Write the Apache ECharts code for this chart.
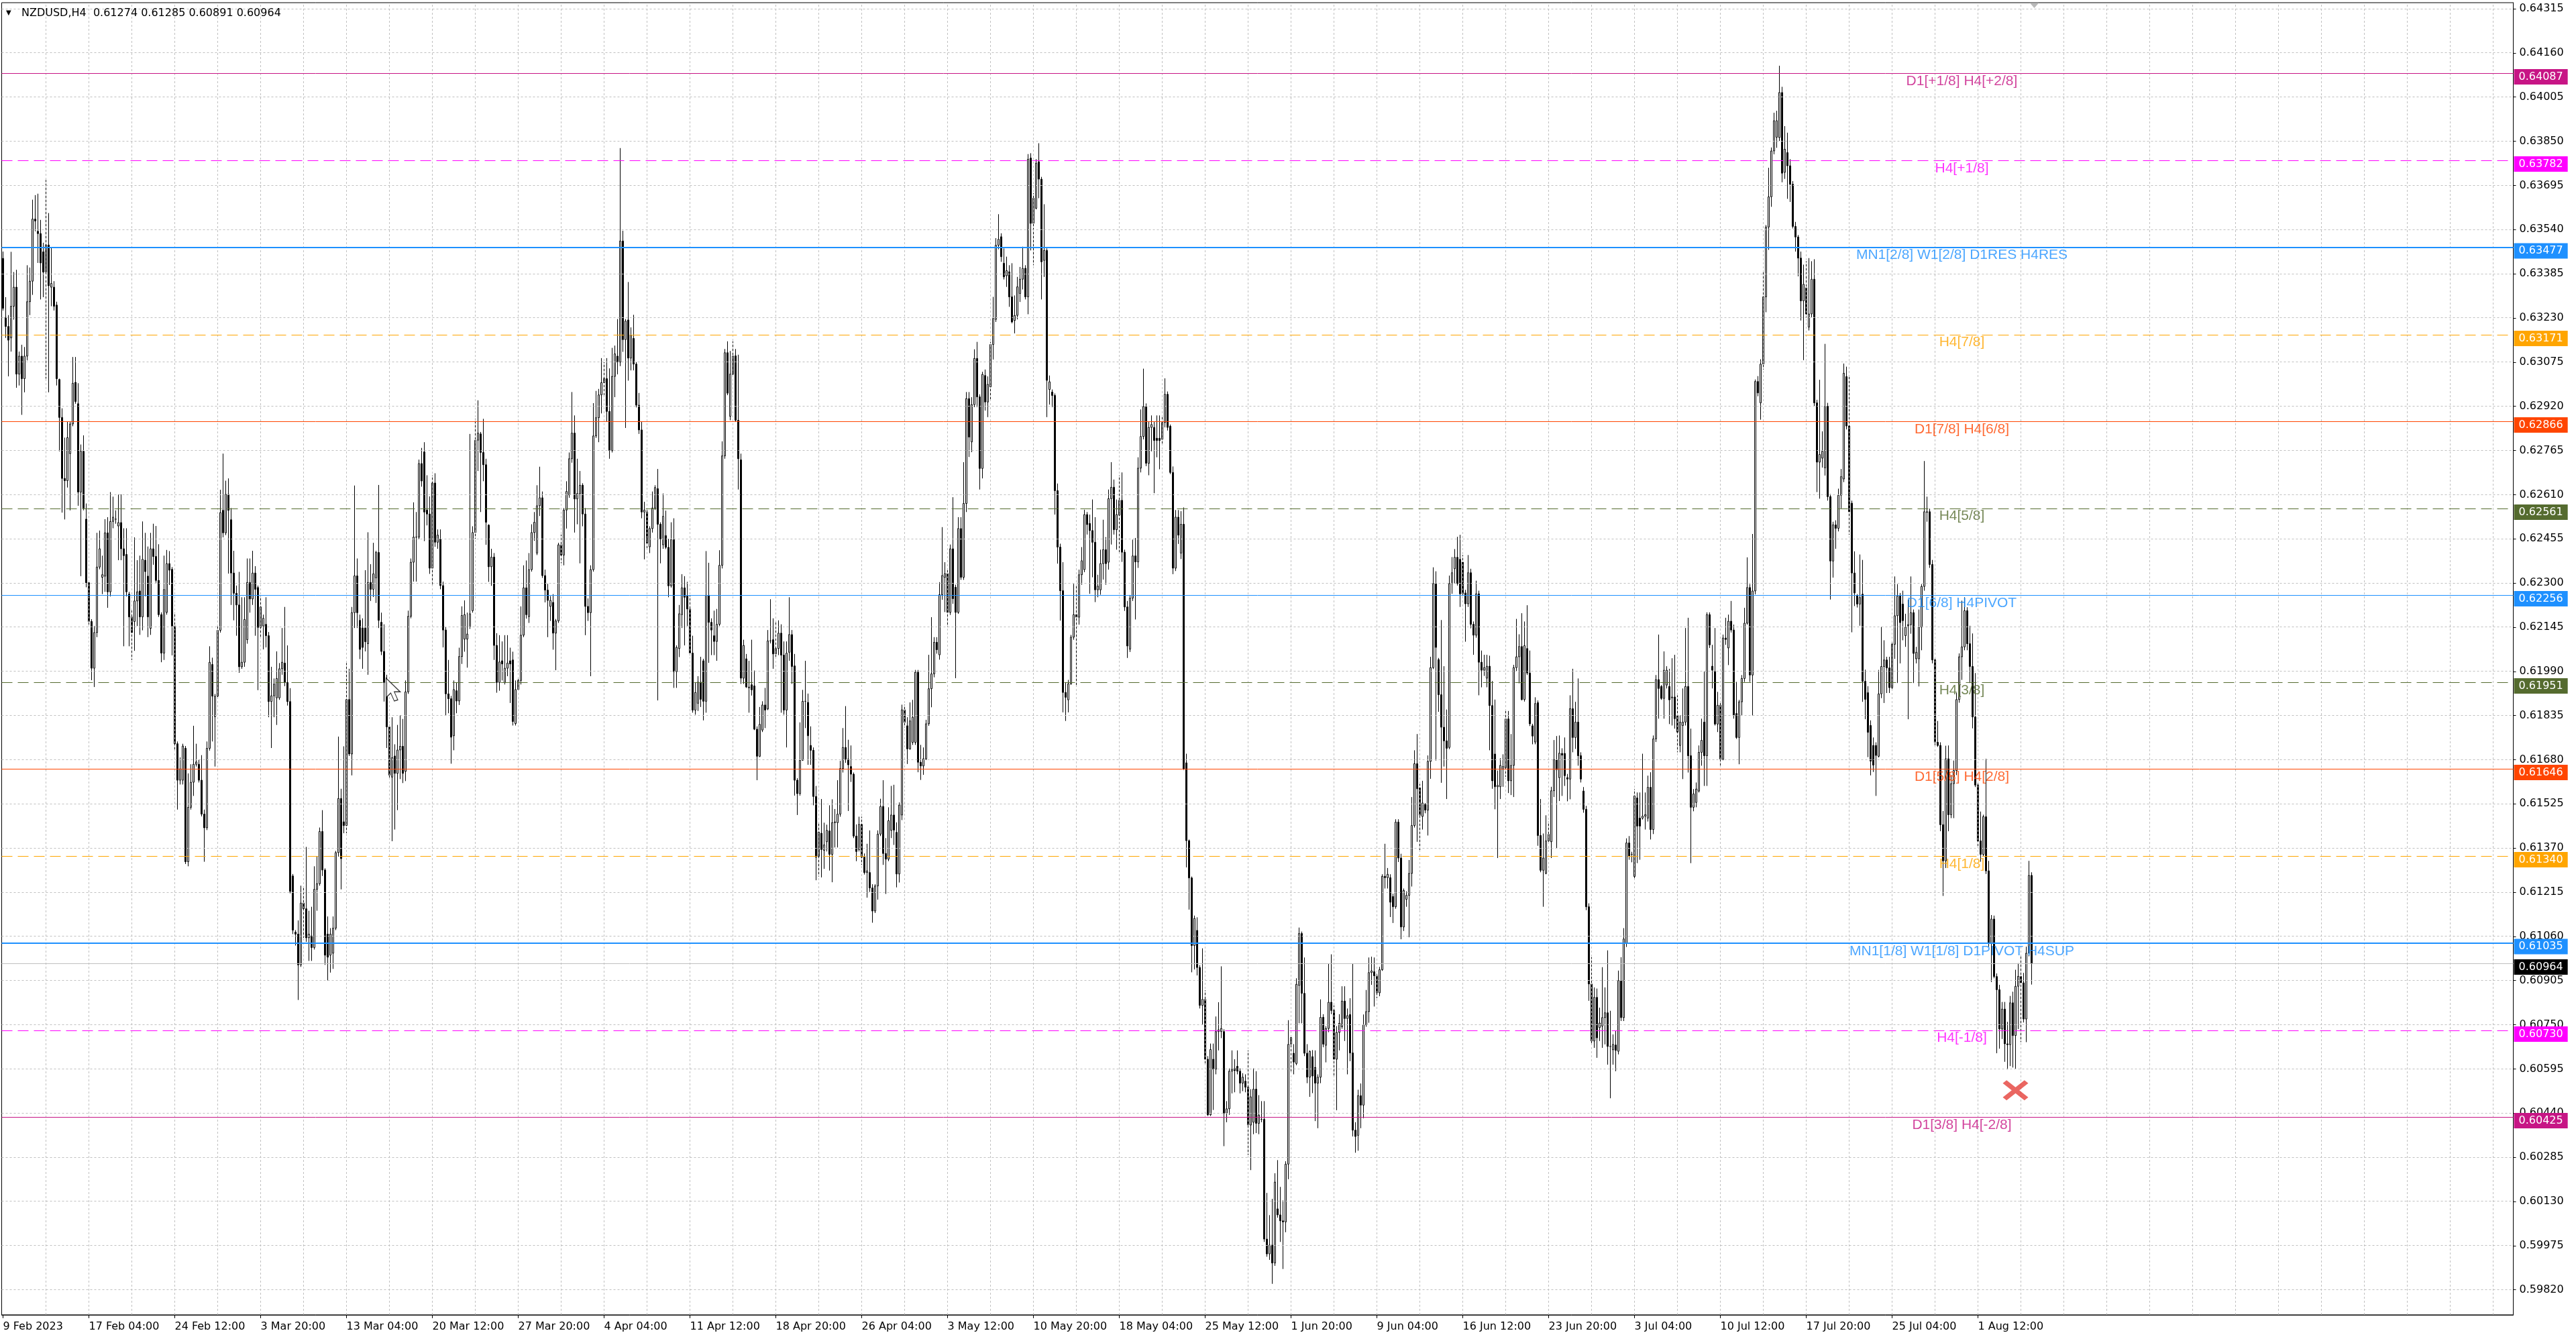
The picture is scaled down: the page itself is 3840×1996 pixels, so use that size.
<!DOCTYPE html>
<html>
<head>
<meta charset="utf-8">
<script src="https://cdn.jsdelivr.net/npm/echarts/dist/echarts.min.js"></script>
<style>
html,body{margin:0;padding:0;background:#fff;overflow:hidden;}
#chart{width:3840px;height:1996px;}
</style>
</head>
<body>
<div id="chart"></div>
<script>
// ---- DATA: NZDUSD H4 candles, each [open, high, low, close] ----
const ohlc = [
[.63439,.63463,.63256,.63264],[.63232,.63303,.63160,.63200],[.63200,.63240,.63025,.63152],[.63160,.63462,.63112,.63271],[.63271,.63391,.63224,.63338],[.63338,.63399,.62985,.63033],[.63033,.63112,.62993,.63096],[.63096,.63136,.62890,.63017],[.63017,.63128,.62969,.63096],[.63096,.63415,.63081,.63287],
[.63287,.63407,.63240,.63359],[.63359,.63645,.63311,.63577],[.63577,.63661,.63534,.63570],[.63534,.63666,.63423,.63526],[.63526,.63574,.63295,.63423],[.63462,.63494,.63303,.63391],[.63391,.63714,.63017,.63486],[.63486,.63598,.62969,.63343],[.63338,.63478,.63271,.63351],[.63338,.63359,.63256,.63271],
[.63275,.63287,.62993,.63017],[.63014,.63017,.62762,.62881],[.62881,.62913,.62547,.62667],[.62667,.62810,.62523,.62659],[.62659,.62866,.62635,.62810],[.62754,.62866,.62555,.62858],[.62858,.63093,.62850,.63001],[.63004,.63093,.62929,.62937],[.62929,.63001,.62571,.62619],[.62619,.62786,.62324,.62762],
[.62762,.62818,.62555,.62563],[.62524,.62579,.62285,.62301],[.62301,.62309,.62149,.62165],[.62165,.62173,.61959,.62001],[.62001,.62149,.61935,.62126],[.62126,.62476,.62110,.62356],[.62356,.62484,.62348,.62420],[.62320,.62396,.62261,.62329],[.62324,.62524,.62269,.62476],[.62476,.62531,.62213,.62269],
[.62269,.62619,.62253,.62516],[.62516,.62603,.62492,.62531],[.62524,.62555,.62508,.62524],[.62500,.62611,.62380,.62512],[.62512,.62611,.62380,.62420],[.62420,.62492,.62078,.62396],[.62400,.62492,.62253,.62269],[.62261,.62269,.62078,.62181],[.62181,.62205,.62030,.62126],[.62165,.62460,.62062,.62237],
[.62237,.62380,.62149,.62269],[.62272,.62396,.62118,.62181],[.62181,.62516,.62134,.62383],[.62380,.62476,.62253,.62340],[.62324,.62428,.62110,.62181],[.62141,.62476,.62118,.62420],[.62420,.62508,.62364,.62393],[.62393,.62500,.62301,.62309],[.62309,.62436,.62181,.62189],[.62189,.62197,.62022,.62054],
[.62054,.62396,.62030,.62277],[.62197,.62416,.62189,.62368],[.62368,.62412,.62293,.62345],[.62348,.62356,.62046,.62149],[.62149,.62197,.61712,.61736],[.61736,.61744,.61505,.61608],[.61608,.61688,.61593,.61648],[.61608,.61736,.61593,.61728],[.61720,.61728,.61314,.61322],[.61322,.61632,.61306,.61513],
[.61513,.61664,.61505,.61601],[.61601,.61799,.61553,.61664],[.61664,.61736,.61656,.61672],[.61664,.61680,.61600,.61608],[.61608,.61696,.61481,.61489],[.61489,.61505,.61322,.61441],[.61441,.61744,.61433,.61720],[.61720,.62078,.61712,.62022],[.62014,.62038,.61744,.61903],[.61831,.61911,.61656,.61903],
[.61903,.62149,.61895,.62134],[.62134,.62627,.62126,.62547],[.62555,.62754,.62460,.62476],[.62476,.62659,.62468,.62611],[.62611,.62667,.62333,.62555],[.62522,.62563,.62223,.62335],[.62335,.62413,.62169,.62264],[.62264,.62291,.62115,.62223],[.62223,.62339,.61985,.62006],[.62006,.62250,.61999,.62022],
[.62022,.62250,.62006,.62172],[.62101,.62386,.62087,.62302],[.62302,.62386,.62196,.62244],[.62244,.62413,.62223,.62335],[.62335,.62359,.62115,.62278],[.62284,.62291,.61924,.62144],[.62144,.62254,.62108,.62216],[.62149,.62189,.62067,.62176],[.62155,.62250,.62074,.62115],[.62115,.62128,.61829,.61884],
[.61884,.62006,.61721,.61904],[.61904,.61965,.61829,.61945],[.61897,.62060,.61802,.61965],[.61897,.62019,.61890,.61999],[.61999,.62142,.61978,.62022],[.62019,.62216,.61938,.61951],[.61951,.62081,.61870,.61884],[.61884,.61931,.61211,.61218],[.61272,.61279,.61068,.61082],[.61075,.61082,.61028,.61068],
[.61068,.61116,.60837,.60960],[.60960,.61238,.60953,.61177],[.61177,.61231,.61055,.61157],[.61157,.61374,.61041,.61055],[.61055,.61150,.60974,.61068],[.61062,.61164,.60974,.61021],[.61021,.61306,.61014,.61225],[.61225,.61340,.61150,.61245],[.61245,.61442,.61238,.61428],[.61428,.61503,.61272,.61293],
[.61293,.61299,.60960,.60994],[.61068,.61130,.60905,.60987],[.60994,.61089,.60933,.61068],[.61001,.61130,.60946,.61089],[.61089,.61360,.61082,.61354],[.61354,.61761,.61340,.61544],[.61544,.61578,.61225,.61333],[.61462,.61727,.61422,.61449],[.61449,.62019,.61422,.61891],[.61891,.61999,.61693,.61700],
[.61700,.62216,.61625,.62196],[.62196,.62642,.62142,.62325],[.62325,.62386,.62142,.62196],[.62169,.62189,.62033,.62067],[.62142,.62176,.61999,.62074],[.62142,.62345,.62060,.62094],[.62087,.62478,.61978,.62302],[.62302,.62366,.62237,.62278],[.62278,.62441,.62251,.62332],[.62318,.62413,.62230,.62407],
[.62407,.62644,.62142,.62169],[.62162,.62196,.62047,.62060],[.62060,.62155,.61884,.61951],[.61951,.61978,.61721,.61795],[.61795,.61802,.61612,.61626],[.61619,.61829,.61394,.61687],[.61693,.61734,.61435,.61632],[.61632,.61802,.61503,.61714],[.61714,.61836,.61612,.61727],[.61727,.61823,.61598,.61632],
[.61639,.61958,.61605,.61918],[.61918,.62203,.61911,.62183],[.62183,.62386,.62176,.62373],[.62373,.62583,.62305,.62461],[.62461,.62549,.62305,.62461],[.62461,.62733,.62454,.62719],[.62719,.62774,.62638,.62658],[.62760,.62794,.62447,.62549],[.62556,.62678,.62502,.62542],[.62542,.62604,.62332,.62352],
[.62352,.62678,.62291,.62651],[.62651,.62685,.62427,.62443],[.62443,.62488,.62420,.62468],[.62454,.62488,.62278,.62291],[.62291,.62305,.62074,.62135],[.62135,.62146,.61836,.61911],[.61911,.62030,.61843,.61894],[.61894,.61904,.61666,.61759],[.61764,.61958,.61713,.61926],[.61922,.61951,.61843,.61886],
[.61886,.62073,.61872,.62042],[.62042,.62218,.62016,.62186],[.62103,.62239,.62059,.62189],[.62103,.62196,.62003,.62121],[.62146,.62823,.62139,.62192],[.62203,.62499,.62196,.62477],[.62477,.62876,.62455,.62801],[.62801,.62941,.62693,.62826],[.62823,.62830,.62549,.62758],[.62758,.62876,.62657,.62715],
[.62715,.62736,.62434,.62513],[.62503,.62506,.62304,.62357],[.62357,.62420,.62290,.62391],[.62391,.62405,.62030,.62081],[.62081,.62124,.61915,.61951],[.61951,.62117,.61922,.62023],[.62027,.62095,.61958,.62016],[.61951,.62117,.61944,.62001],[.62001,.62117,.61973,.62019],[.62027,.62073,.61879,.62016],
[.62030,.62059,.61800,.61814],[.61807,.61958,.61800,.61926],[.61926,.61965,.61922,.61958],[.61958,.62218,.61944,.62117],[.62117,.62362,.62110,.62283],[.62283,.62379,.62175,.62189],[.62182,.62405,.62160,.62347],[.62347,.62506,.62340,.62477],[.62477,.62549,.62448,.62513],[.62405,.62643,.62398,.62571],
[.62571,.62708,.62535,.62599],[.62599,.62621,.62318,.62326],[.62326,.62347,.62232,.62275],[.62275,.62297,.62110,.62239],[.62218,.62254,.62167,.62239],[.62232,.62261,.62066,.62124],[.62124,.62174,.61994,.62167],[.62167,.62441,.62160,.62434],[.62434,.62470,.62369,.62398],[.62398,.62563,.62362,.62556],
[.62556,.62657,.62491,.62621],[.62609,.62758,.62599,.62736],[.62736,.62970,.62722,.62826],[.62826,.62888,.62477,.62595],[.62595,.62736,.62506,.62614],[.62614,.62693,.62369,.62643],[.62643,.62650,.62499,.62542],[.62542,.62563,.62117,.62218],[.62218,.62246,.62167,.62196],[.62196,.62362,.61973,.62347],
[.62347,.62931,.62340,.62816],[.62816,.62974,.62809,.62880],[.62880,.62981,.62794,.62960],[.62960,.63089,.62895,.63003],[.63003,.63075,.62952,.63017],[.63017,.63089,.62866,.62902],[.62902,.63053,.62736,.62765],[.62765,.63125,.62758,.63025],[.63025,.63133,.62952,.63104],[.63096,.63226,.63032,.63075],
[.63075,.63826,.63061,.63500],[.63500,.63536,.63111,.63154],[.63154,.63226,.62844,.63219],[.63223,.63356,.63010,.63089],[.63089,.63197,.63046,.63169],[.63158,.63241,.63046,.63068],[.63068,.63075,.62916,.62924],[.62924,.62967,.62823,.62837],[.62837,.62866,.62527,.62549],[.62549,.62585,.62383,.62556],
[.62549,.62556,.62420,.62441],[.62427,.62499,.62405,.62491],[.62491,.62621,.62477,.62563],[.62563,.62643,.62556,.62635],[.62631,.62700,.61888,.62506],[.62506,.62513,.62369,.62455],[.62434,.62614,.62420,.62534],[.62466,.62554,.62419,.62425],[.62425,.62455,.62250,.62290],[.62290,.62513,.62284,.62452],
[.62452,.62527,.61932,.61989],[.61989,.62081,.61932,.62074],[.62070,.62223,.62040,.62192],[.62189,.62331,.62142,.62283],[.62283,.62324,.62081,.62250],[.62254,.62304,.62149,.62209],[.62209,.62257,.62047,.62054],[.62054,.62115,.61845,.61854],[.61854,.61952,.61838,.61916],[.61878,.61973,.61851,.61952],
[.61952,.62041,.61865,.61892],[.62027,.62034,.61818,.61885],[.61885,.62412,.61845,.62257],[.62257,.62371,.62020,.62162],[.62162,.62176,.62047,.62135],[.62115,.62203,.62047,.62095],[.62095,.62209,.62027,.62155],[.62155,.62415,.62149,.62362],[.62362,.62797,.62351,.62746],[.62746,.63121,.62736,.63108],
[.63108,.63148,.62959,.62966],[.62885,.63114,.62871,.63033],[.63033,.63148,.63027,.63097],[.63097,.63121,.62865,.62871],[.62871,.63101,.62628,.62736],[.62732,.62754,.61946,.61966],[.61966,.62101,.61946,.62081],[.62034,.62051,.61932,.61935],[.61932,.62027,.61845,.61935],[.61943,.62101,.61905,.61925],
[.61939,.61993,.61784,.61787],[.61787,.61797,.61608,.61692],[.61692,.61865,.61689,.61804],[.61784,.61885,.61777,.61872],[.61872,.61932,.61791,.61854],[.61858,.62135,.61854,.62097],[.62097,.62243,.62088,.62097],[.62101,.62176,.61999,.62051],[.62051,.62165,.62041,.62070],[.62070,.62169,.62047,.62124],
[.62124,.62155,.61845,.62047],[.62047,.62095,.61838,.61854],[.61854,.62095,.61723,.62054],[.62057,.62250,.62027,.62119],[.62119,.62135,.61946,.62007],[.62009,.62051,.61554,.61608],[.61608,.61615,.61486,.61561],[.61561,.61811,.61554,.61678],[.61678,.61925,.61676,.61885],[.61885,.62027,.61791,.61885],
[.61881,.61912,.61662,.61764],[.61730,.61797,.61662,.61713],[.61713,.61723,.61520,.61551],[.61551,.61588,.61257,.61338],[.61341,.61459,.61270,.61426],[.61422,.61542,.61267,.61365],[.61362,.61459,.61297,.61381],[.61392,.61452,.61358,.61432],[.61430,.61520,.61291,.61348],[.61348,.61541,.61250,.61459],
[.61459,.61507,.61372,.61462],[.61459,.61608,.61372,.61489],[.61489,.61676,.61480,.61649],[.61649,.61791,.61635,.61723],[.61723,.61868,.61669,.61682],[.61682,.61750,.61500,.61662],[.61656,.61730,.61602,.61629],[.61629,.61635,.61405,.61412],[.61412,.61453,.61324,.61358],[.61365,.61480,.61358,.61453],
[.61453,.61480,.61311,.61338],[.61338,.61351,.61277,.61284],[.61284,.61385,.61196,.61290],[.61284,.61432,.61216,.61230],[.61230,.61243,.61108,.61149],[.61149,.61243,.61142,.61237],[.61237,.61432,.61189,.61419],[.61419,.61543,.61412,.61516],[.61516,.61608,.61311,.61351],[.61351,.61405,.61209,.61331],
[.61331,.61513,.61324,.61466],[.61432,.61588,.61405,.61486],[.61486,.61592,.61381,.61433],[.61425,.61460,.61232,.61279],[.61279,.61530,.61249,.61521],[.61486,.61873,.61468,.61855],[.61855,.61873,.61793,.61811],[.61799,.61829,.61665,.61718],[.61718,.61881,.61715,.61816],[.61741,.61890,.61732,.61829],
[.61741,.61995,.61732,.61987],[.61987,.61995,.61636,.61671],[.61671,.61732,.61609,.61658],[.61658,.61723,.61627,.61683],[.61683,.61820,.61679,.61806],[.61806,.62048,.61799,.61929],[.61929,.62180,.61864,.61981],[.61981,.62110,.61969,.62092],[.62092,.62110,.62052,.62066],[.62048,.62303,.62031,.62259],
[.62259,.62496,.62241,.62326],[.62320,.62373,.62198,.62333],[.62333,.62347,.62145,.62197],[.62197,.62435,.62188,.62420],[.62420,.62601,.62227,.62245],[.62285,.62294,.61966,.62197],[.62197,.62531,.62192,.62491],[.62491,.62531,.62311,.62320],[.62320,.62724,.62311,.62579],[.62579,.62970,.62549,.62947],
[.62947,.62970,.62742,.62812],[.62795,.62952,.62759,.62926],[.62926,.63120,.62917,.63088],[.63088,.63146,.62917,.62953],[.62953,.62962,.62628,.62702],[.62702,.63041,.62667,.63032],[.63028,.63049,.62905,.62935],[.62935,.63025,.62882,.62997],[.62988,.63146,.62944,.63137],[.63137,.63304,.63084,.63228],
[.63225,.63510,.63216,.63485],[.63485,.63594,.63471,.63506],[.63515,.63527,.63427,.63445],[.63422,.63474,.63365,.63374],[.63378,.63445,.63339,.63396],[.63392,.63415,.63269,.63304],[.63304,.63422,.63211,.63216],[.63221,.63309,.63176,.63239],[.63239,.63374,.63225,.63339],[.63316,.63409,.63286,.63366],
[.63366,.63480,.63330,.63404],[.63404,.63415,.63295,.63304],[.63304,.63805,.63243,.63787],[.63791,.63808,.63467,.63562],[.63562,.63668,.63415,.63650],[.63615,.63787,.63611,.63773],[.63778,.63843,.63650,.63717],[.63717,.63725,.63295,.63427],[.63432,.63629,.63374,.63467],[.63467,.63474,.62882,.63011],
[.62979,.63028,.62926,.63006],[.62970,.62979,.62917,.62958],[.62958,.62965,.62540,.62624],[.62624,.62649,.62368,.62426],[.62426,.62438,.62168,.62273],[.62273,.62373,.61846,.61916],[.61916,.61952,.61816,.61899],[.61890,.61960,.61846,.61946],[.61946,.62118,.61943,.62110],[.62110,.62297,.62101,.62189],
[.62189,.62294,.61939,.62180],[.62180,.62347,.62154,.62329],[.62329,.62426,.62294,.62378],[.62347,.62557,.62338,.62540],[.62540,.62549,.62470,.62505],[.62509,.62540,.62262,.62484],[.62484,.62593,.62320,.62443],[.62443,.62531,.62233,.62276],[.62276,.62329,.62250,.62289],[.62276,.62417,.62259,.62368],
[.62368,.62522,.62312,.62417],[.62417,.62461,.62294,.62368],[.62373,.62628,.62347,.62596],[.62596,.62724,.62435,.62636],[.62636,.62663,.62470,.62487],[.62487,.62593,.62417,.62540],[.62538,.62678,.62405,.62590],[.62590,.62688,.62374,.62408],[.62408,.62417,.62202,.62216],[.62216,.62237,.62037,.62079],
[.62068,.62258,.62058,.62247],[.62247,.62452,.62237,.62395],[.62395,.62458,.62172,.62374],[.62374,.62741,.62353,.62703],[.62703,.62909,.62688,.62814],[.62814,.63052,.62804,.62919],[.62919,.62930,.62710,.62720],[.62720,.62867,.62678,.62846],[.62846,.62888,.62762,.62856],[.62846,.62867,.62615,.62800],
[.62808,.62888,.62741,.62800],[.62808,.62888,.62699,.62800],[.62804,.62888,.62783,.62863],[.62863,.63018,.62846,.62962],[.62962,.62972,.62835,.62846],[.62850,.62856,.62682,.62688],[.62688,.62709,.62331,.62352],[.62352,.62556,.62342,.62531],[.62531,.62556,.62437,.62468],[.62405,.62552,.62384,.62506],
[.62506,.62565,.61644,.61648],[.61669,.61701,.61302,.61396],[.61396,.61400,.61154,.61265],[.61265,.61270,.60934,.61028],[.61028,.61133,.60944,.61123],[.61081,.61127,.60923,.60951],[.60951,.60959,.60807,.60818],[.60818,.61018,.60749,.60839],[.60839,.60871,.60608,.60629],[.60629,.60640,.60430,.60434],
[.60434,.60684,.60430,.60663],[.60629,.60684,.60451,.60594],[.60594,.60779,.60576,.60726],[.60726,.60829,.60660,.60732],[.60726,.60955,.60703,.60737],[.60726,.60734,.60324,.60440],[.60440,.60482,.60408,.60455],[.60455,.60597,.60434,.60587],[.60587,.60660,.60509,.60594],[.60597,.60629,.60513,.60589],
[.60604,.60660,.60576,.60587],[.60587,.60597,.60509,.60545],[.60545,.60580,.60517,.60566],[.60552,.60576,.60513,.60531],[.60531,.60660,.60293,.60398],[.60398,.60524,.60240,.60497],[.60408,.60597,.60366,.60524],[.60524,.60587,.60370,.60404],[.60404,.60503,.60366,.60433],[.60418,.60482,.60408,.60418],
[.60418,.60482,.59988,.59998],[.59998,.60160,.59936,.59946],[.59946,.60082,.59925,.59977],[.59977,.60139,.59841,.59914],[.59914,.60229,.59904,.60198],[.60104,.60275,.60073,.60083],[.60083,.60181,.59988,.60062],[.60062,.60134,.59893,.60058],[.60058,.60271,.60022,.60261],[.60261,.60766,.60208,.60681],
[.60681,.60709,.60586,.60705],[.60650,.60682,.60576,.60619],[.60614,.60913,.60608,.60892],[.60888,.61091,.60755,.61070],[.61070,.61077,.60755,.60860],[.60860,.60986,.60640,.60650],[.60650,.60682,.60545,.60566],[.60566,.60660,.60497,.60656],[.60638,.60661,.60510,.60570],[.60600,.60660,.60412,.60545],
[.60545,.60576,.60387,.60566],[.60566,.60839,.60545,.60776],[.60776,.60787,.60671,.60682],[.60678,.60745,.60618,.60737],[.60737,.60965,.60724,.60829],[.60829,.60997,.60787,.60800],[.60800,.60818,.60566,.60629],[.60629,.60745,.60450,.60723],[.60723,.60787,.60660,.60755],[.60743,.60885,.60736,.60833],
[.60833,.60885,.60693,.60772],[.60772,.60807,.60576,.60782],[.60786,.60843,.60622,.60651],[.60651,.60964,.60358,.60380],[.60380,.60408,.60301,.60358],[.60362,.60522,.60308,.60501],[.60501,.60544,.60387,.60468],[.60468,.60786,.60422,.60750],[.60750,.60872,.60743,.60796],[.60796,.60986,.60757,.60933],
[.60933,.60989,.60890,.60939],[.60936,.60986,.60814,.60922],[.60922,.60929,.60843,.60862],[.60862,.60953,.60850,.60943],[.60943,.61278,.60939,.61271],[.61271,.61385,.61228,.61266],[.61266,.61300,.61228,.61278],[.61266,.61278,.61128,.61180],[.61200,.61210,.61107,.61164],[.61164,.61471,.61157,.61461],
[.61461,.61471,.61321,.61335],[.61335,.61350,.61050,.61093],[.61093,.61228,.61079,.61221],[.61190,.61218,.61164,.61204],[.61204,.61328,.61057,.61281],[.61281,.61549,.61235,.61449],[.61449,.61713,.61442,.61666],[.61666,.61770,.61392,.61578],[.61581,.61595,.61357,.61485],[.61481,.61606,.61435,.61528],
[.61523,.61528,.61492,.61503],[.61503,.61695,.61414,.61674],[.61674,.62041,.61613,.62003],[.62003,.62355,.61998,.62298],[.62298,.62341,.61677,.62074],[.62031,.62037,.61848,.61908],[.61908,.62170,.61599,.61794],[.61794,.62008,.61656,.61746],[.61746,.61856,.61542,.61720],[.61723,.62326,.61717,.62298],
[.62298,.62391,.62262,.62336],[.62350,.62419,.62298,.62390],[.62390,.62462,.62291,.62298],[.62383,.62469,.62216,.62262],[.62373,.62398,.62255,.62262],[.62265,.62276,.62094,.62227],[.62227,.62398,.62216,.62336],[.62336,.62350,.62141,.62155],[.62155,.62165,.62048,.62117],[.62117,.62308,.62108,.62262],
[.62262,.62273,.61906,.62022],[.62022,.62063,.61934,.61994],[.61994,.62048,.61974,.62003],[.61966,.62048,.61934,.62008],[.62008,.62045,.61713,.61870],[.61870,.61956,.61578,.61606],[.61700,.61891,.61506,.61585],[.61585,.61642,.61335,.61590],[.61585,.61685,.61542,.61660],[.61646,.61699,.61585,.61656],
[.61652,.61856,.61620,.61823],[.61823,.61851,.61563,.61606],[.61606,.61770,.61556,.61660],[.61660,.62013,.61549,.62003],[.62003,.62174,.61991,.62041],[.62041,.62120,.61948,.62077],[.62077,.62194,.61888,.61891],[.61891,.62165,.61884,.62080],[.62070,.62222,.61977,.61984],[.61984,.62063,.61798,.61806],
[.61799,.61806,.61734,.61763],[.61742,.61899,.61734,.61877],[.61880,.61888,.61378,.61414],[.61414,.61542,.61285,.61292],[.61292,.61421,.61164,.61335],[.61281,.61485,.61278,.61395],[.61395,.61463,.61392,.61418],[.61392,.61585,.61335,.61571],[.61571,.61749,.61549,.61680],[.61680,.61763,.61368,.61645],
[.61617,.61765,.61535,.61703],[.61702,.61720,.61553,.61696],[.61702,.61758,.61588,.61624],[.61617,.61630,.61534,.61612],[.61612,.61906,.61541,.61859],[.61859,.61999,.61706,.61758],[.61758,.61883,.61718,.61812],[.61812,.61965,.61659,.61694],[.61694,.61706,.61600,.61612],[.61570,.61584,.61494,.61506],
[.61506,.61518,.61152,.61164],[.61164,.61176,.60834,.60893],[.60893,.60987,.60681,.60693],[.60693,.60881,.60669,.60846],[.60846,.60877,.60634,.60704],[.60740,.60810,.60693,.60756],[.60745,.60952,.60669,.60775],[.60775,.60881,.60681,.60792],[.60792,.61011,.60610,.60674],[.60674,.60799,.60492,.60674],
[.60662,.60716,.60610,.60681],[.60679,.60728,.60587,.60660],[.60657,.60940,.60646,.60905],[.60905,.60987,.60763,.60775],[.60775,.61089,.60763,.61051],[.61035,.61404,.61023,.61388],[.61388,.61412,.61329,.61341],[.61348,.61357,.61320,.61348],[.61270,.61577,.61258,.61553],[.61546,.61565,.61317,.61447],
[.61475,.61565,.61329,.61447],[.61475,.61701,.61470,.61482],[.61482,.61565,.61435,.61487],[.61475,.61624,.61463,.61583],[.61583,.61636,.61400,.61435],[.61435,.61765,.61419,.61753],[.61753,.61977,.61742,.61961],[.61961,.62119,.61824,.61930],[.61937,.61942,.61890,.61895],[.61895,.62060,.61824,.61994],
[.61942,.62008,.61930,.61994],[.61937,.61999,.61805,.61890],[.61897,.62036,.61800,.61900],[.61900,.62048,.61789,.61824],[.61836,.61906,.61706,.61777],[.61730,.61836,.61706,.61812],[.61800,.61930,.61612,.61812],[.61812,.62142,.61800,.61937],[.61937,.62178,.61635,.61694],[.61694,.61789,.61317,.61513],
[.61513,.61577,.61499,.61560],[.61530,.61600,.61513,.61577],[.61570,.61730,.61565,.61706],[.61706,.61824,.61659,.61748],[.61812,.61989,.61588,.61694],[.61694,.62197,.61588,.62189],[.62189,.62197,.62072,.62083],[.62008,.62083,.61930,.61994],[.61989,.62142,.61800,.61805],[.61805,.61918,.61777,.61871],
[.61871,.61883,.61659,.61682],[.61682,.62119,.61678,.62107],[.62107,.62178,.62083,.62102],[.62072,.62189,.62012,.62166],[.62166,.62237,.62126,.62135],[.62135,.62154,.61824,.61836],[.61842,.61953,.61753,.61758],[.61758,.61890,.61664,.61883],[.61883,.61977,.61836,.61965],[.61965,.62213,.61953,.62159],
[.62159,.62390,.62154,.62284],[.62284,.62296,.61953,.61977],[.61977,.62472,.61835,.62272],[.62272,.63014,.62260,.63007],[.63007,.63026,.62955,.62967],[.62932,.63085,.62873,.63068],[.63068,.63391,.63049,.63304],[.63304,.63556,.63250,.63549],[.63549,.63757,.63469,.63655],[.63655,.63828,.63620,.63816],
[.63816,.63950,.63804,.63922],[.63864,.63957,.63827,.63922],[.63863,.64115,.63851,.64021],[.64021,.64041,.63706,.63738],[.63741,.63903,.63718,.63822],[.63810,.63880,.63648,.63764],[.63764,.63787,.63637,.63699],[.63699,.63710,.63544,.63551],[.63551,.63567,.63463,.63514],[.63514,.63521,.63376,.63440],
[.63440,.63463,.63221,.63290],[.63290,.63417,.63082,.63348],[.63336,.63429,.63232,.63244],[.63198,.63440,.63186,.63244],[.63244,.63429,.63232,.63366],[.63366,.63436,.62920,.62932],[.62932,.62943,.62619,.62724],[.62724,.63013,.62596,.62751],[.62738,.62832,.62705,.62762],[.62704,.63139,.62677,.62920],
[.62920,.62932,.62589,.62603],[.62603,.62612,.62242,.62377],[.62377,.62515,.62319,.62504],[.62504,.62520,.62420,.62492],[.62492,.62631,.62481,.62608],[.62608,.62700,.62562,.62673],[.62665,.63070,.62654,.63036],[.63024,.63059,.62839,.62851],[.62851,.63024,.62469,.62550],[.62580,.62589,.62127,.62335],
[.62335,.62411,.62219,.62265],[.62256,.62261,.62214,.62226],[.62226,.62400,.62150,.62249],[.62261,.62381,.61883,.61955],[.61955,.61996,.61822,.61892],[.61915,.61938,.61689,.61776],[.61800,.61818,.61625,.61675],[.61730,.61758,.61637,.61661],[.61730,.61741,.61553,.61695],[.61692,.61995,.61688,.61911],
[.61911,.62146,.61896,.62007],[.62007,.62099,.61879,.62030],[.62030,.62041,.61914,.62002],[.62002,.62041,.61914,.61933],[.61933,.62092,.61926,.62085],[.62085,.62323,.62034,.62185],[.62185,.62296,.61949,.62254],[.62254,.62265,.62018,.62161],[.62226,.62273,.62099,.62168],[.62115,.62192,.62076,.62145],
[.62150,.62242,.61822,.62154],[.62154,.62323,.62122,.62196],[.62196,.62207,.61949,.62053],[.62034,.62076,.62018,.62057],[.62034,.62207,.61937,.62145],[.62145,.62296,.62064,.62288],[.62288,.62728,.62273,.62550],[.62548,.62603,.62515,.62550],[.62550,.62561,.62353,.62365],[.62365,.62381,.62018,.62030],
[.62030,.62041,.61730,.61741],[.61741,.61816,.61725,.61730],[.61730,.61741,.61429,.61452],[.61452,.61500,.61202,.61325],[.61325,.61729,.61300,.61683],[.61683,.61730,.61429,.61487],[.61487,.61626,.61475,.61596],[.61596,.61677,.61475,.61642],[.61642,.61915,.61626,.61891],[.61891,.62053,.61880,.62041],
[.62041,.62238,.61960,.62076],[.62076,.62250,.62064,.62203],[.62203,.62215,.62064,.62087],[.62087,.62150,.61949,.62007],[.62007,.62123,.61790,.61830],[.61830,.61984,.61584,.61591],[.61591,.61603,.61371,.61395],[.61395,.61498,.61322,.61348],[.61348,.61487,.61340,.61480],[.61480,.61683,.61279,.61290],
[.61290,.61325,.61024,.61035],[.61035,.61135,.60900,.61121],[.61121,.61133,.60913,.60919],[.60919,.60930,.60650,.60873],[.60873,.60890,.60666,.60735],[.60735,.60830,.60700,.60805],[.60805,.60830,.60620,.60683],[.60683,.60760,.60593,.60680],[.60680,.60851,.60605,.60827],[.60827,.60866,.60600,.60712],
[.60712,.60943,.60596,.60885],[.60885,.60966,.60735,.60920],[.60920,.60990,.60689,.60897],[.60897,.60932,.60758,.60770],[.60770,.61024,.60689,.61001],[.61001,.61325,.60990,.61274],[.61274,.61285,.60891,.60964]
];

// time-axis tick labels (one every 32 H4 bars, first at bar 0)
const timeLabels = ['9 Feb 2023','17 Feb 04:00','24 Feb 12:00','3 Mar 20:00','13 Mar 04:00','20 Mar 12:00','27 Mar 20:00','4 Apr 04:00','11 Apr 12:00','18 Apr 20:00','26 Apr 04:00','3 May 12:00','10 May 20:00','18 May 04:00','25 May 12:00','1 Jun 20:00','9 Jun 04:00','16 Jun 12:00','23 Jun 20:00','3 Jul 04:00','10 Jul 12:00','17 Jul 20:00','25 Jul 04:00','1 Aug 12:00'];

// price-axis tick labels
const priceTicks = [0.59820,0.59975,0.60130,0.60285,0.60440,0.60595,0.60750,0.60905,0.61060,0.61215,0.61370,0.61525,0.61680,0.61835,0.61990,0.62145,0.62300,0.62455,0.62610,0.62765,0.62920,0.63075,0.63230,0.63385,0.63540,0.63695,0.63850,0.64005,0.64160,0.64315];

// Murrey-math style levels
const levelPrices = [0.64087,0.63782,0.63477,0.63171,0.62866,0.62561,0.62256,0.61951,0.61646,0.61340,0.61035,0.60730,0.60425];
const levelNames  = ['D1[+1/8] H4[+2/8]','H4[+1/8]','MN1[2/8] W1[2/8] D1RES H4RES','H4[7/8]','D1[7/8] H4[6/8]','H4[5/8]','D1[6/8] H4PIVOT','H4[3/8]','D1[5/8] H4[2/8]','H4[1/8]','MN1[1/8] W1[1/8] D1PIVOT H4SUP','H4[-1/8]','D1[3/8] H4[-2/8]'];
const levelColors = ['#C71585','#FF00FF','#1E90FF','#FFA500','#FF4500','#556B2F','#1E90FF','#556B2F','#FF4500','#FFA500','#1E90FF','#FF00FF','#C71585'];
const levelDashed = [false,true,false,true,false,true,false,true,false,true,false,true,false];
const levelWidths = [1,1,2,1,1,1,1,1,1,1,2,1,1];

const symbolTitle = 'NZDUSD,H4  0.61274 0.61285 0.60891 0.60964';
const lastPrice = 0.60964;
const crossMark = [750, 0.60520];
const shiftMark = [757, 0.64327];
const cursorMark = [145, 0.61926];

// ---- layout constants ----
const TOTAL_SLOTS = 936;     // bar slots across the plot incl. right shift space
const LABEL_STEP = 32;
const GRID_STEP = 16;
const LEVEL_TEXT_IDX = 730;
const Y_MIN = 0.597321, Y_MAX = 0.643362;
const FONT_UI = 'DejaVu Sans';
const FONT_TXT = 'Liberation Sans';

const categories = Array.from({length: TOTAL_SLOTS}, (_, i) => String(i));
const candleData = ohlc.map(([o, h, l, c]) => [o, c, Math.min(l, o, c), Math.max(h, o, c)]);
const vGrid = [];
for (let i = GRID_STEP; i < TOTAL_SLOTS; i += GRID_STEP) vGrid.push(i);
const showLabel = (i) => i % LABEL_STEP === 0 && (i / LABEL_STEP) < timeLabels.length;
const dashPat = [16, 8];

const boxLabel = (text, bg) => ({
  show: true, position: 'end', distance: 1, offset: [0, 5], formatter: text, color: '#fff',
  backgroundColor: bg, padding: [3, 7, 2, 7], lineHeight: 18, fontSize: 16, fontFamily: FONT_UI
});

// snap: maps a price to the value whose pixel row gives a crisp 1px (or 2px) line
function buildLevelLines(snap) {
  const lines = levelPrices.map((p, k) => ({
    yAxis: snap(p, levelWidths[k]),
    lineStyle: {color: levelColors[k], type: levelDashed[k] ? dashPat : 'solid', width: levelWidths[k]},
    label: boxLabel(p.toFixed(5), levelColors[k])
  }));
  lines.push({
    yAxis: snap(lastPrice, 1),
    lineStyle: {color: '#C0C0C0', type: 'solid', width: 1},
    label: boxLabel(lastPrice.toFixed(5), '#000000')
  });
  return lines;
}
function buildGridLines(snap) {
  return priceTicks.map(v => ({yAxis: snap(v, 1)})).concat(vGrid.map(i => ({xAxis: String(i)})));
}
const noSnap = (p) => p;

const chart = echarts.init(document.getElementById('chart'), null, {renderer: 'canvas', width: 3840, height: 1996});
chart.setOption({
  animation: false,
  backgroundColor: '#ffffff',
  title: [
    {text: '▼', left: 9, top: 14, padding: 0, textStyle: {fontSize: 10, color: '#000', fontFamily: FONT_UI, fontWeight: 'normal'}},
    {text: symbolTitle, left: 32, top: 12, padding: 0, textStyle: {fontSize: 16, color: '#000', fontFamily: FONT_UI, fontWeight: 'normal'}}
  ],
  grid: {left: 2.5, right: 93.5, top: 4, bottom: 36, show: true, borderColor: '#000', borderWidth: 1, backgroundColor: '#fff'},
  xAxis: {
    type: 'category', data: categories, boundaryGap: true,
    axisLine: {show: true, lineStyle: {color: '#000', width: 1}},
    axisTick: {show: true, alignWithLabel: true, length: 5, interval: showLabel, lineStyle: {color: '#000'}},
    axisLabel: {show: true, interval: showLabel, formatter: (v) => timeLabels[Math.round(Number(v) / LABEL_STEP)] || '',
      align: 'left', margin: 10, fontSize: 16, fontFamily: FONT_UI, color: '#000', hideOverlap: false},
    splitLine: {show: false}
  },
  yAxis: {
    type: 'value', position: 'right', min: Y_MIN, max: Y_MAX,
    axisLine: {show: true, lineStyle: {color: '#000', width: 1}},
    axisTick: {show: true, length: 4, customValues: priceTicks, lineStyle: {color: '#000'}},
    axisLabel: {show: true, customValues: priceTicks, formatter: (v) => Number(v).toFixed(5), margin: 9,
      fontSize: 16, fontFamily: FONT_UI, color: '#000'},
    splitLine: {show: false}
  },
  series: [
    {
      id: 'grid', type: 'line', data: [], silent: true, z: 1, clip: false,
      markLine: {
        silent: true, symbol: ['none', 'none'], label: {show: false}, animation: false, precision: 6,
        lineStyle: {color: '#C0C0C0', type: [3, 3], width: 1},
        data: buildGridLines(noSnap)
      }
    },
    {
      id: 'candles', name: 'NZDUSD', type: 'candlestick', data: candleData, z: 3, large: false, barWidth: 2,
      itemStyle: {color: '#ffffff', color0: '#000000', borderColor: '#000000', borderColor0: '#000000', borderWidth: 1}
    },
    {
      id: 'levels', type: 'line', data: [], silent: true, z: 4, clip: false,
      markLine: {silent: true, symbol: ['none', 'none'], animation: false, precision: 6, data: buildLevelLines(noSnap)}
    },
    {
      id: 'levelText', type: 'scatter', symbolSize: 0, silent: true, z: 5, clip: false,
      itemStyle: {color: 'rgba(0,0,0,0)'},
      data: levelPrices.map((p, k) => ({
        value: [String(LEVEL_TEXT_IDX), p],
        label: {show: true, position: 'bottom', distance: 1, formatter: levelNames[k], color: levelColors[k],
          fontSize: 21, fontFamily: FONT_TXT}
      }))
    },
    {
      id: 'mark', type: 'scatter', silent: true, z: 6, clip: false,
      symbol: 'path://M3,0 L10,7 L17,0 L20,3 L13,10 L20,17 L17,20 L10,13 L3,20 L0,17 L7,10 L0,3 Z',
      symbolSize: [38, 30], itemStyle: {color: '#E5403A'},
      data: [[String(crossMark[0]), crossMark[1]]]
    },
    {
      id: 'shift', type: 'scatter', silent: true, z: 6, clip: false,
      symbol: 'triangle', symbolRotate: 180, symbolSize: [14, 8], itemStyle: {color: '#A8A8A8'},
      data: [[String(shiftMark[0]), shiftMark[1]]]
    },
    {
      id: 'cursor', type: 'scatter', silent: true, z: 7, clip: false,
      symbol: 'path://M0,0 L0,17 L4,13 L7,20 L10,19 L7,12 L12,12 Z',
      symbolSize: [21, 34], symbolOffset: [1.5, 0],
      itemStyle: {color: '#ffffff', borderColor: '#000000', borderWidth: 1.2},
      data: [[String(cursorMark[0]), cursorMark[1]]]
    }
  ]
});

// second pass: snap horizontal lines to pixel rows using the chart's own y scale
const snapPx = (p, w) => {
  const y = chart.convertToPixel({yAxisIndex: 0}, p);
  const ys = (w % 2 === 0) ? Math.round(y) : Math.floor(y) + 0.5;
  return chart.convertFromPixel({yAxisIndex: 0}, ys);
};
chart.setOption({
  series: [
    {id: 'grid', markLine: {data: buildGridLines(snapPx)}},
    {id: 'levels', markLine: {data: buildLevelLines(snapPx)}}
  ]
});
</script>
</body>
</html>
